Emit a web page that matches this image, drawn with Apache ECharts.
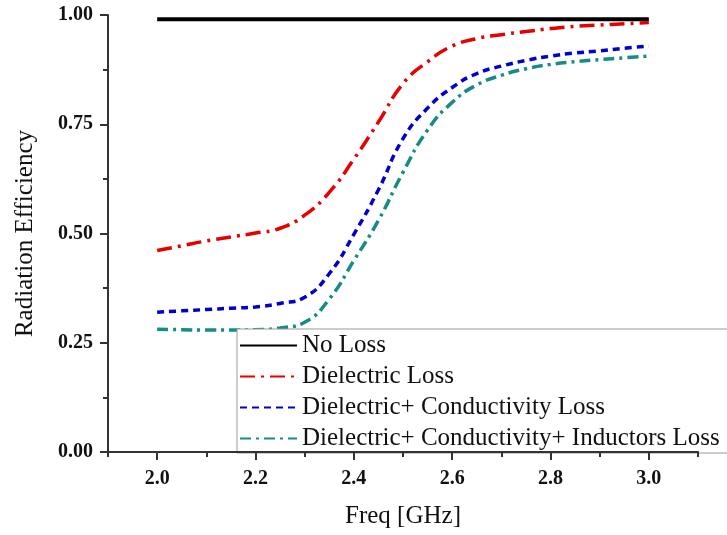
<!DOCTYPE html>
<html>
<head>
<meta charset="utf-8">
<script src="https://cdn.jsdelivr.net/npm/echarts@6/dist/echarts.min.js"></script>
<style>html,body{margin:0;padding:0;background:#fff}#c{width:727px;height:535px}</style>
</head>
<body>
<div id="c"></div>
<script>
var freq = [2.00,2.05,2.10,2.15,2.20,2.25,2.30,2.35,2.40,2.45,2.50,2.55,2.60,2.65,2.70,2.75,2.80,2.85,2.90,2.95,3.00];
var noLoss = [0.99,0.99,0.99,0.99,0.99,0.99,0.99,0.99,0.99,0.99,0.99,0.99,0.99,0.99,0.99,0.99,0.99,0.99,0.99,0.99,0.99];
var dielectric = [0.461,0.472,0.483,0.492,0.501,0.512,0.542,0.594,0.670,0.755,0.843,0.893,0.929,0.946,0.955,0.962,0.969,0.974,0.977,0.980,0.983];
var dielCond = [0.320,0.323,0.326,0.329,0.332,0.340,0.354,0.408,0.498,0.600,0.717,0.787,0.834,0.866,0.883,0.896,0.906,0.913,0.918,0.924,0.929];
var dielCondInd = [0.281,0.280,0.279,0.279,0.280,0.284,0.297,0.350,0.438,0.530,0.640,0.737,0.800,0.840,0.862,0.877,0.887,0.893,0.898,0.902,0.906];
var seriesNames = ['No Loss','Dielectric Loss','Dielectric+ Conductivity Loss','Dielectric+ Conductivity+ Inductors Loss'];
var xMajorTicks = [2.0,2.2,2.4,2.6,2.8,3.0];

function pairs(ys){ return freq.map(function(f,i){ return [f, ys[i]]; }); }

var serif = '"Liberation Serif","Times New Roman",serif';
var axisCol = '#333';

var chart = echarts.init(document.getElementById('c'), null, {renderer:'canvas'});
chart.setOption({
  backgroundColor: '#fff',
  animation: false,
  grid: {left: 108, right: 29, top: 15, bottom: 83, containLabel: false},
  legend: {
    orient: 'vertical',
    left: 237, top: 329,
    padding: [4, 40, 2, 2],
    itemWidth: 57, itemHeight: 14, itemGap: 6,
    backgroundColor: '#fff',
    borderColor: '#999', borderWidth: 1, borderRadius: 0,
    itemStyle: {color: 'rgba(0,0,0,0)', borderColor: 'rgba(0,0,0,0)', borderWidth: 0},
    textStyle: {fontFamily: serif, fontSize: 25, color: '#111'},
    data: seriesNames
  },
  xAxis: [{
    type: 'value', min: 1.9, max: 3.1, interval: 0.1, z: 6,
    axisLine: {show: true, lineStyle: {color: axisCol, width: 2}},
    axisTick: {show: true, length: 5, lineStyle: {color: axisCol, width: 2}},
    axisLabel: {show: false},
    splitLine: {show: false},
    name: 'Freq [GHz]', nameLocation: 'middle', nameGap: 52,
    nameTextStyle: {fontFamily: serif, fontSize: 25, color: '#111'}
  }, {
    type: 'value', min: 1.9, max: 3.1, position: 'bottom', z: 6,
    axisLine: {show: false},
    axisTick: {show: true, length: 8, customValues: xMajorTicks, lineStyle: {color: axisCol, width: 2}},
    axisLabel: {show: true, customValues: xMajorTicks, margin: 17,
      formatter: function(v){ return v.toFixed(1); },
      fontFamily: serif, fontSize: 20, fontWeight: 'bold', color: '#111'},
    splitLine: {show: false}
  }],
  yAxis: {
    type: 'value', min: 0, max: 1, interval: 0.25,
    axisLine: {show: true, lineStyle: {color: axisCol, width: 2}},
    axisTick: {show: true, length: 8, lineStyle: {color: axisCol, width: 2}},
    minorTick: {show: true, splitNumber: 2, length: 5, lineStyle: {color: axisCol, width: 2}},
    axisLabel: {margin: 15, formatter: function(v){ return v.toFixed(2); },
      fontFamily: serif, fontSize: 20, fontWeight: 'bold', color: '#111'},
    splitLine: {show: false},
    name: 'Radiation Efficiency', nameLocation: 'middle', nameGap: 70,
    nameTextStyle: {fontFamily: serif, fontSize: 25, color: '#111'}
  },
  series: [
    {name: seriesNames[0], type: 'line', xAxisIndex: 0, data: pairs(noLoss), symbol: 'none', smooth: true,
     lineStyle: {color: '#000', width: 4, type: 'solid'}, itemStyle: {color: '#000'}},
    {name: seriesNames[1], type: 'line', xAxisIndex: 0, data: pairs(dielectric), symbol: 'none', smooth: true,
     lineStyle: {color: '#e60000', width: 3.5, type: [15, 6, 3, 6]}, itemStyle: {color: '#e60000'}},
    {name: seriesNames[2], type: 'line', xAxisIndex: 0, data: pairs(dielCond), symbol: 'none', smooth: true,
     lineStyle: {color: '#0000cc', width: 3.5, type: [7, 5]}, itemStyle: {color: '#0000cc'}},
    {name: seriesNames[3], type: 'line', xAxisIndex: 0, data: pairs(dielCondInd), symbol: 'none', smooth: true,
     lineStyle: {color: '#168c84', width: 3.5, type: [11, 5, 3, 5]}, itemStyle: {color: '#168c84'}}
  ]
});
</script>
</body>
</html>
